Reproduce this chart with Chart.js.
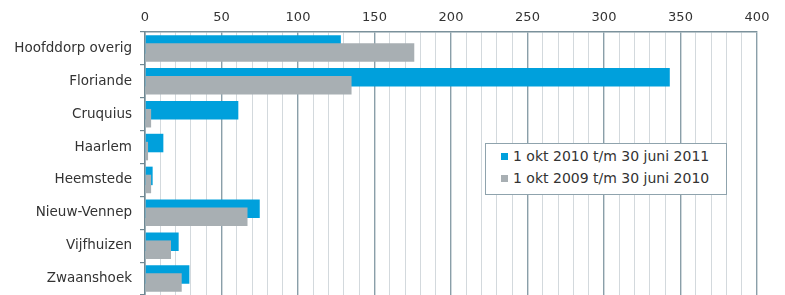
<!DOCTYPE html>
<html lang="nl">
<head>
    <meta charset="UTF-8">
    <title>Meldingen per kern</title>
    <script src="https://cdn.jsdelivr.net/npm/chart.js"></script>
    <style>
        body { margin: 0; background: #fff; font-family: "DejaVu Sans", sans-serif; }
        #wrap { position: relative; width: 785px; height: 295px; overflow: hidden; }
        #legend {
            position: absolute; left: 485px; top: 143px; width: 242px; height: 52px;
            background: #fff; border: 1px solid #8fa3ad; box-sizing: border-box;
            padding: 1px 0 0 15px; font-size: 14px; color: #333;
        }
        #legend div { height: 22px; line-height: 22px; white-space: nowrap; }
        #legend span { display: inline-block; width: 7px; height: 7px; margin-right: 5px; vertical-align: 1px; }
    </style>
</head>
<body>
<div id="wrap">
    <canvas id="chart" width="785" height="295"></canvas>
    <div id="legend"></div>
</div>
<script>
    const categories = ['Hoofddorp overig', 'Floriande', 'Cruquius', 'Haarlem', 'Heemstede', 'Nieuw-Vennep', 'Vijfhuizen', 'Zwaanshoek'];
    const period2011 = [128, 343, 61, 12, 5, 75, 22, 29];
    const period2010 = [176, 135, 4, 2, 4, 67, 17, 24];
    const seriesLabels = ['1 okt 2010 t/m 30 juni 2011', '1 okt 2009 t/m 30 juni 2010'];
    const seriesColors = ['#00a0dc', '#a8afb3'];

    // grey bar sits on top of the blue one, so draw it last
    const greyOnTop = {
        id: 'greyOnTop',
        beforeDatasetDraw(chart, args) {
            if (args.index === 1) return false;
        },
        afterDatasetsDraw(chart) {
            chart.getDatasetMeta(1).controller.draw();
        }
    };

    let ctx = document.getElementById('chart').getContext('2d');
    let chart = new Chart(ctx, {
        type: 'bar',
        data: {
            labels: categories,
            datasets: [
                { label: seriesLabels[0], data: period2011, backgroundColor: seriesColors[0] },
                { label: seriesLabels[1], data: period2010, backgroundColor: seriesColors[1] }
            ]
        },
        plugins: [greyOnTop],
        options: {
            indexAxis: 'y',
            responsive: false,
            animation: false,
            categoryPercentage: 0.49,
            barPercentage: 2.3,
            layout: { padding: { top: 0, right: 28, bottom: 0, left: 0 } },
            plugins: { legend: { display: false }, tooltip: { enabled: false } },
            scales: {
                x: {
                    position: 'top',
                    min: 0, max: 400,
                    afterFit(scale) { scale.height = 32; },
                    border: { color: '#7b919b', width: 1.5 },
                    grid: {
                        drawTicks: false,
                        color: c => (c.tick && c.tick.value % 50 === 0) ? '#8a9fa9' : '#d3d9dd',
                        lineWidth: c => (c.tick && c.tick.value % 50 === 0) ? 1.4 : 1
                    },
                    ticks: {
                        stepSize: 10,
                        padding: 7,
                        maxRotation: 0,
                        autoSkip: false,
                        color: '#333',
                        font: { family: 'DejaVu Sans', size: 13 },
                        callback: v => v % 50 === 0 ? v : ''
                    }
                },
                y: {
                    afterFit(scale) {
                        scale.width = 145;
                        scale.paddingTop = 0;
                        scale.paddingBottom = 0;
                    },
                    border: { color: '#6f8893', width: 1.5 },
                    grid: { drawOnChartArea: false, tickLength: 5, color: '#6f8893', lineWidth: 1.2 },
                    ticks: { padding: 8, color: '#333', font: { family: 'DejaVu Sans', size: 13.5 } }
                }
            }
        }
    });

    document.getElementById('legend').innerHTML = seriesLabels
        .map((l, i) => `<div><span style="background:${seriesColors[i]}"></span>${l}</div>`).join('');
</script>
</body>
</html>
